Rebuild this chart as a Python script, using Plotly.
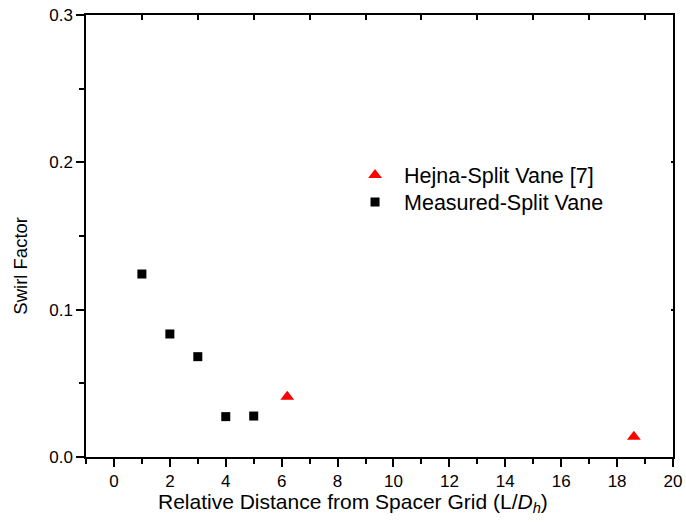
import plotly.graph_objects as go

measured_x = [1, 2, 3, 4, 5]
measured_y = [0.1242, 0.0835, 0.0681, 0.0274, 0.0278]
hejna_x = [6.2, 18.6]
hejna_y = [0.0409, 0.0138]

x_ticks = [0, 2, 4, 6, 8, 10, 12, 14, 16, 18, 20]
x_top_ticks = [1, 3, 5, 7, 9, 11, 13, 15, 17, 19]
y_ticks = [0.0, 0.1, 0.2, 0.3]

FONT = "Liberation Sans, Arial, sans-serif"

fig = go.Figure()
fig.add_trace(go.Scatter(x=hejna_x, y=hejna_y, mode="markers", name="Hejna-Split Vane [7]",
                         legend="legend",
                         marker=dict(symbol="triangle-up", color="#ff0000", size=12)))
fig.add_trace(go.Scatter(x=measured_x, y=measured_y, mode="markers", name="Measured-Split Vane",
                         legend="legend2",
                         marker=dict(symbol="square", color="#000000", size=9)))

common = dict(showline=True, linecolor="black", linewidth=1.5, showgrid=False, zeroline=False,
              tickcolor="black", tickwidth=1.5, automargin=False)

leg_common = dict(x=0.443, xanchor="left", yanchor="top", bgcolor="rgba(0,0,0,0)",
                  font=dict(size=21.5, family=FONT), itemwidth=48)

fig.update_layout(
    width=686, height=523,
    margin=dict(l=86, r=13, t=15, b=66),
    paper_bgcolor="white", plot_bgcolor="white",
    font=dict(family=FONT, size=16, color="black"),
    showlegend=True,
    legend=dict(y=0.6844, **leg_common),
    legend2=dict(y=0.6233, **leg_common),
    xaxis=dict(range=[-1, 20], tickvals=x_ticks, ticks="outside", ticklen=8,
               minor=dict(ticks="outside", ticklen=5, dtick=1, tick0=-1, tickcolor="black", tickwidth=1.5),
               tickfont=dict(size=17), **common),
    yaxis=dict(range=[0, 0.3], tickvals=y_ticks, tickformat=".1f", ticks="outside", ticklen=8,
               minor=dict(ticks="outside", ticklen=5, dtick=0.05, tick0=0, tickcolor="black", tickwidth=1.5),
               tickfont=dict(size=17), **common),
    xaxis2=dict(range=[-1, 20], overlaying="x", side="top", tickvals=x_top_ticks, ticks="inside", ticklen=5,
                showticklabels=False, **common),
    yaxis2=dict(range=[0, 0.3], overlaying="y", side="right", tickvals=y_ticks, ticks="inside", ticklen=2,
                showticklabels=False, **common),
    annotations=[
        dict(text="Relative Distance from Spacer Grid (L/<i>D<sub>h</sub></i>)", xref="paper", yref="paper",
             x=0.4557, y=-0.104, xanchor="center", yanchor="middle", showarrow=False,
             font=dict(size=21, family=FONT)),
        dict(text="Swirl Factor", xref="paper", yref="paper", textangle=-90,
             x=-0.1116, y=0.434, xanchor="center", yanchor="middle", showarrow=False,
             font=dict(size=18.5, family=FONT)),
    ],
)
# invisible trace to activate the mirrored axes
fig.add_trace(go.Scatter(x=[None], y=[None], xaxis="x2", yaxis="y2", showlegend=False, hoverinfo="skip"))

fig.write_html("out.html", config={"displayModeBar": False},
               post_script="document.body.style.margin='0';document.body.style.padding='0';")
